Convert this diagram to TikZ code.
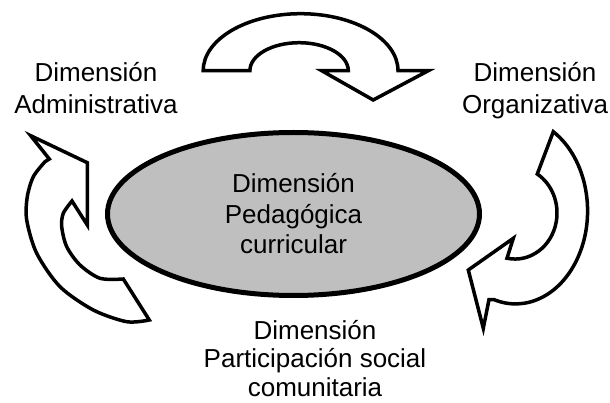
\documentclass[tikz,border=0pt]{standalone}
\usepackage{fontspec}
\setmainfont{Liberation Sans}
\usetikzlibrary{shapes.geometric}

\tikzset{
	dimtext/.style={inner sep=0pt, align=center, font=\fontsize{26}{31}\selectfont},
	nucleo/.style={ellipse, draw, line width=5pt, fill=gray!50, minimum width=372pt, minimum height=163pt},
	flecha/.style={draw, line width=3.5pt, fill=white}
}

\begin{document}
\begin{tikzpicture}[x=1pt,y=-1pt]
		\useasboundingbox (0,0) rectangle (610,403);
		
		% centre
		\node[nucleo, dimtext, font=\fontsize{26}{30.5}\selectfont] (pedagogica) at (293.5,214) {Dimensión\\Pedagógica\\curricular};
		
		% the three dimensions round it
		\node[dimtext, anchor=north, font=\fontsize{26}{32}\selectfont] (administrativa) at (96,62) {Dimensión\\Administrativa};
		\node[dimtext, anchor=north, font=\fontsize{26}{32}\selectfont] (organizativa) at (535,62) {Dimensión\\Organizativa};
		\node[dimtext, anchor=north, font=\fontsize{26}{28.5}\selectfont] (participacion) at (315,320) {Dimensión\\Participación social\\comunitaria};
		
		% top arrow
		\draw[flecha] (203.2,70.7) arc[start angle=180, end angle=360, x radius=97.4, y radius=57]
			-- (428.3,70.7) -- (373.2,100) -- (321.7,70.7) -- (348.3,70.7)
			arc[start angle=0, end angle=-180, x radius=49.2, y radius=28] -- cycle;
		
		% right arrow
		\draw[flecha] (553.3,131.7) arc[start angle=-58.4, end angle=107.7, x radius=72, y radius=93]
			-- (489,299.5) -- (483.3,328.3) -- (468.3,270) -- (513.3,238.3) -- (507,258.2)
			arc[start angle=101, end angle=-58, x radius=42, y radius=46] -- cycle;
		
		% left arrow
		\draw[flecha] (30.7,135.7) -- (87.3,162.7) -- (87.3,225) -- (72,201)
			-- plot[smooth] coordinates {(72,201) (63.3,213.3) (61.7,226.7) (66.7,246.7) (80,265) (100,278.3) (123.3,279)}
			-- (149.3,320)
			-- plot[smooth] coordinates {(149.3,320) (126.7,321.7) (93.3,310) (60,286.7) (36.7,253.3) (26.7,220) (27.3,196.7) (33.3,176.7) (45,161.7)}
			-- (49.3,159) -- cycle;
	\end{tikzpicture}
\end{document}
